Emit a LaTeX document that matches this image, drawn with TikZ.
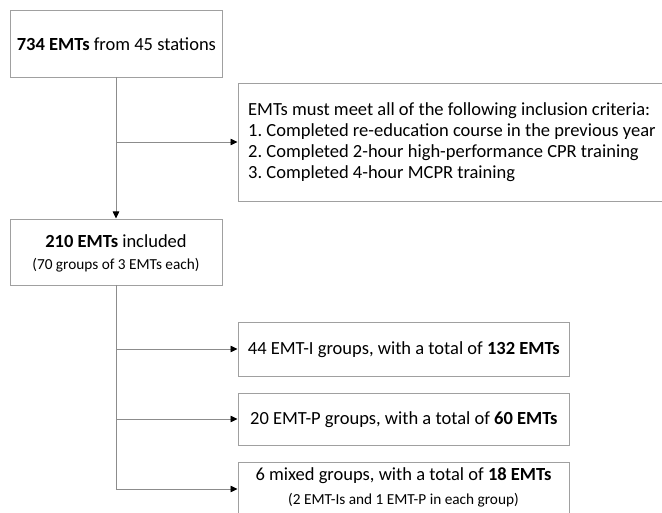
\documentclass[tikz,border=0pt]{standalone}
\usepackage{fontspec}
\setmainfont{Carlito}
\usetikzlibrary{arrows.meta,positioning}
\definecolor{boxgray}{HTML}{A0A0A0}
\definecolor{linegray}{HTML}{8C8C8C}
\tikzset{
  fbox/.style={draw=boxgray, line width=0.8pt, fill=white, inner sep=0pt, anchor=north west, align=center, font=\bigtxt},
  txt/.style={inner sep=0pt, font=\bigtxt},
  smalltxt/.style={inner sep=0pt, font=\fontsize{15.3}{18}\selectfont},
  conn/.style={draw=linegray, line width=0.8pt},
  arr/.style={conn, -{Triangle[length=7pt,width=6.5pt,color=black]}, shorten >=0.5pt},
}
\newcommand{\bigtxt}{\fontsize{18.5}{21}\selectfont}
\frenchspacing
\begin{document}
\begin{tikzpicture}[x=1pt,y=-1pt]
\useasboundingbox (0,0) rectangle (662,513);
\clip (0,0) rectangle (662,513);
% boxes
\node[fbox, minimum width=212pt, minimum height=67pt] (b1) at (10,10)
  {\textbf{734 EMTs} from 45 stations};
\node[fbox, minimum width=440pt, minimum height=118pt] (crit) at (238,83) {};
\node[txt, anchor=west, align=left] (crittxt) at (248,142)
  {EMTs must meet all of the following inclusion criteria:\\
   1. Completed re-education course in the previous year\\
   2. Completed 2-hour high-performance CPR training\\
   3. Completed 4-hour MCPR training};
\node[fbox, minimum width=212pt, minimum height=66pt] (b2) at (10,219) {};
\node[txt] (b2a) at (116,241) {\textbf{210 EMTs} included};
\node[smalltxt] (b2b) at (116,265) {(70 groups of 3 EMTs each)};
\node[fbox, minimum width=331pt, minimum height=54pt] (g1) at (238,322)
  {44 EMT-I groups, with a total of \textbf{132 EMTs}};
\node[fbox, minimum width=331pt, minimum height=52pt] (g2) at (238,393)
  {20 EMT-P groups, with a total of \textbf{60 EMTs}};
\node[fbox, minimum width=331pt, minimum height=80pt] (g3) at (238,462) {};
\node[txt] (g3a) at (403.5,476) {6 mixed groups, with a total of \textbf{18 EMTs}};
\node[smalltxt] (g3b) at (403.5,500) {(2 EMT-Is and 1 EMT-P in each group)};
% connectors
\coordinate (j1) at (116,142);
\coordinate (j2) at (116,349);
\coordinate (j3) at (116,419);
\coordinate (j4) at (116,489);
\coordinate (b1s) at (116,77);
\coordinate (b2s) at (116,285);
\draw[arr] (b1s) -- (b1s |- b2.north);
\draw[arr] (j1) -- (j1 -| crit.west);
\draw[conn] (b2s) -- (j4);
\draw[arr] (j2) -- (j2 -| g1.west);
\draw[arr] (j3) -- (j3 -| g2.west);
\draw[arr] (j4) -- (j4 -| g3.west);
\end{tikzpicture}
\end{document}
